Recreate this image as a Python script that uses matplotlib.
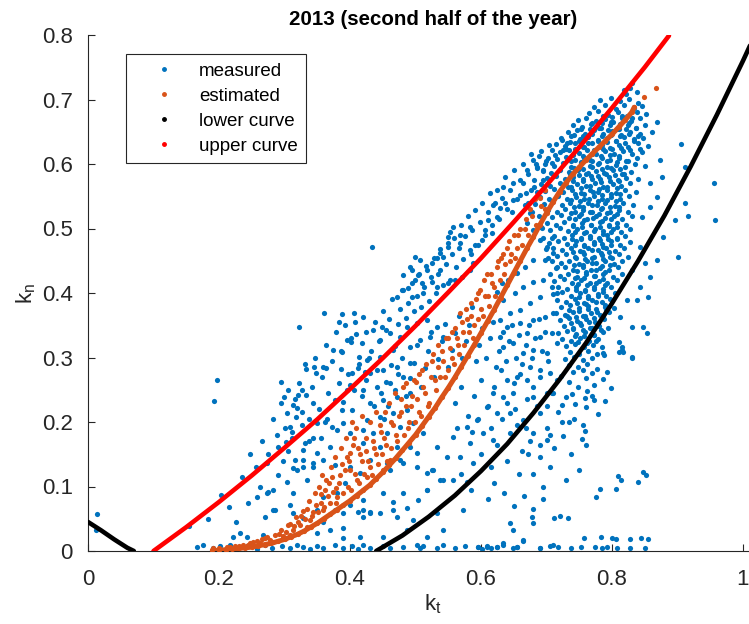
import numpy as np
import matplotlib
matplotlib.use("Agg")
import matplotlib.pyplot as plt
from matplotlib.lines import Line2D

plt.rcParams['font.family'] = ['Liberation Sans', 'DejaVu Sans']
plt.rcParams['mathtext.fontset'] = 'custom'
plt.rcParams['mathtext.rm'] = 'Liberation Sans'

# ---------------- data (kt, kn) in thousandths ----------------
measured_edge = [(12, 32), (14, 58)]

measured_floor = [
    (166, 6), (176, 9), (191, 4), (202, 8), (210, 3), (217, 10), (229, 5), (243, 7), (258, 3),
    (270, 9), (281, 5), (296, 8), (308, 4), (319, 10), (328, 6), (339, 3), (350, 8), (359, 5),
    (377, 9), (389, 4), (403, 7), (412, 3), (420, 9), (430, 5), (450, 8), (461, 4), (481, 6),
    (502, 9), (507, 4), (511, 7), (533, 5), (542, 9), (560, 4), (575, 7), (595, 6), (602, 3),
    (609, 8), (616, 5), (624, 6), (634, 10), (649, 4), (655, 6), (664, 15), (690, 5), (706, 7),
    (718, 6), (738, 4), (753, 6), (774, 6), (785, 5), (792, 6), (808, 5), (827, 5), (850, 5),
    (757, 20), (783, 22), (800, 20), (806, 19), (827, 19), (844, 20), (855, 19),
    (711, 51), (721, 54), (733, 51), (776, 84), (782, 96), (806, 96), (809, 116), (814, 110),
    (840, 107), (847, 122), (852, 118), (754, 174), (759, 186),
]

measured_low = [
    (273, 136), (313, 129), (344, 130), (328, 141), (290, 118), (334, 110), (304, 107), (258, 84),
    (275, 91), (313, 90), (285, 64), (308, 71), (270, 53), (232, 28), (392, 105), (380, 90),
    (420, 79), (400, 71), (412, 60), (430, 60), (450, 90), (466, 76), (450, 22), (389, 36),
    (359, 45), (369, 33), (328, 51), (350, 28),
    (360, 369), (388, 367), (406, 369), (383, 355), (322, 347), (409, 336), (395, 327), (401, 324),
    (374, 312), (388, 309), (414, 301), (333, 282), (345, 285), (359, 285), (363, 284), (348, 276),
    (386, 282), (403, 276), (412, 284), (423, 278), (197, 265), (295, 262), (327, 250), (333, 242),
    (321, 242), (400, 257), (406, 250), (395, 250), (299, 239), (192, 233), (313, 226), (319, 222),
    (344, 229), (377, 234), (389, 231), (388, 219), (403, 219), (304, 214), (318, 208), (327, 195),
    (308, 192), (350, 198), (362, 200), (372, 192), (389, 198), (380, 188), (400, 183), (420, 188),
    (290, 161), (302, 169), (344, 175), (331, 167), (350, 152), (369, 161), (328, 157), (316, 141),
    (328, 130), (344, 136), (359, 141), (377, 133), (319, 126), (400, 130), (415, 121),
    (203, 87), (215, 68), (183, 50), (154, 39), (273, 90), (282, 64), (313, 59), (350, 64),
    (359, 84), (377, 64), (389, 59), (420, 53), (221, 22), (243, 22), (267, 25), (389, 20),
    (415, 22), (434, 471),
    (461, 126), (481, 136), (502, 130), (518, 121), (527, 126), (542, 110), (518, 95), (481, 90),
    (472, 53), (496, 48), (487, 33), (518, 22), (542, 33), (533, 59),
    (282, 205), (288, 180), (294, 230), (300, 190), (305, 250), (311, 175), (316, 235), (322, 260),
    (326, 215), (331, 290), (337, 205), (342, 255), (347, 300), (353, 220), (357, 270), (363, 320),
    (367, 245), (372, 295), (378, 340), (383, 260), (387, 310), (392, 350), (397, 275), (402, 330),
    (408, 355), (413, 290), (418, 240), (424, 265), (429, 300), (436, 225), (441, 280), (447, 245),
    (452, 205), (458, 225), (298, 140), (305, 155), (312, 185), (338, 170), (355, 175), (365, 205),
    (235, 115), (248, 150), (262, 100), (256, 130), (244, 75), (226, 45), (265, 170), (275, 150),
    (283, 95),
]

measured_mid = [
    (553, 495), (557, 502), (499, 456), (533, 454), (542, 456), (518, 436), (495, 436), (504, 428),
    (481, 428), (537, 436), (525, 417), (510, 415), (499, 420), (479, 405), (489, 408), (472, 394),
    (495, 394), (511, 400), (533, 409), (550, 415), (560, 420), (571, 425), (583, 436), (588, 447),
    (583, 467), (591, 474), (602, 482), (606, 498), (617, 493), (611, 513), (624, 518), (629, 532),
    (637, 540), (647, 526), (649, 544), (660, 552), (667, 536), (675, 524), (670, 509), (679, 498),
    (693, 501), (690, 482), (701, 471), (708, 485), (710, 462), (698, 451), (716, 440), (679, 451),
    (667, 440), (655, 431), (641, 420), (632, 415), (624, 402), (634, 389), (652, 400), (664, 409),
    (679, 417), (695, 420), (708, 409), (716, 400), (690, 394), (675, 384), (660, 374), (644, 369),
    (629, 358), (640, 347), (660, 353), (679, 358), (698, 363), (710, 369), (670, 338), (690, 332),
    (708, 338), (716, 322), (701, 307), (679, 312), (664, 307), (649, 322), (634, 316), (629, 332),
    (675, 285), (690, 281), (705, 276), (716, 265), (670, 265), (655, 270), (640, 265), (618, 245),
    (634, 239), (649, 245), (679, 239), (708, 245), (609, 223), (624, 214), (644, 214), (664, 203),
    (690, 214), (594, 203), (579, 192), (563, 191), (557, 177), (583, 167), (603, 183), (618, 172),
    (644, 183), (679, 183), (701, 172), (533, 161), (548, 146), (568, 146), (588, 136), (525, 126),
    (537, 110), (518, 95), (557, 110), (579, 107), (504, 79), (487, 67), (466, 64), (446, 59),
    (430, 59), (420, 64), (573, 64), (644, 43), (649, 33), (678, 53), (679, 43), (664, 17),
    (634, 12), (609, 6), (595, 6), (624, 6), (655, 6), (690, 5), (710, 9),
    (420, 363), (435, 343), (449, 347), (461, 338), (446, 327), (476, 332), (487, 347), (502, 353),
    (518, 358), (533, 347), (542, 332), (522, 332), (507, 327), (492, 316), (466, 312), (446, 301),
    (426, 296), (430, 276), (450, 281), (472, 285), (492, 291), (481, 270), (461, 260), (441, 254),
    (420, 250), (430, 229), (450, 234), (472, 239), (492, 245), (487, 219), (466, 214), (446, 208),
    (426, 203), (435, 183), (456, 183), (476, 192), (496, 198), (511, 183), (420, 167), (446, 161),
    (472, 161), (492, 161), (502, 152), (430, 141), (456, 136), (476, 141),
    (649, 571), (634, 565), (618, 536), (583, 502), (568, 478), (550, 471), (537, 462), (525, 447),
    (507, 451), (492, 440), (550, 487), (568, 490),
    (724, 637), (679, 606), (670, 591), (664, 571), (695, 591), (708, 602), (713, 614),
    (725, 622), (731, 633),
]

measured_band = [
    (418, 322), (425, 340), (432, 310), (438, 355), (444, 325), (451, 372), (455, 342), (460, 360),
    (464, 390), (468, 318), (473, 352), (477, 375), (481, 405), (485, 362), (489, 385), (494, 415),
    (498, 372), (502, 395), (505, 430), (509, 378), (513, 410), (516, 442), (520, 388), (524, 425),
    (528, 455), (531, 400), (535, 430), (538, 468), (542, 412), (546, 445), (549, 478), (553, 420),
    (556, 460), (559, 485), (562, 440), (566, 470), (569, 505), (573, 452), (576, 488), (580, 520),
    (584, 460), (587, 498), (591, 528), (595, 475), (598, 510), (602, 540), (606, 490), (610, 525),
    (613, 555), (617, 505), (621, 540), (625, 560), (628, 515), (632, 548), (636, 580), (640, 530),
    (645, 560), (650, 590), (655, 545), (659, 575), (664, 600), (668, 555), (672, 585), (676, 615),
    (681, 565), (686, 595), (691, 620), (695, 575), (699, 605), (704, 630),
    (455, 262), (462, 288), (468, 250), (474, 275), (480, 300), (486, 240), (492, 268), (498, 292),
    (503, 320), (508, 255), (514, 283), (519, 310), (524, 340), (529, 270), (535, 298), (540, 325),
    (545, 352), (550, 285), (556, 312), (561, 338), (566, 365), (571, 300), (577, 325), (582, 350),
    (587, 378), (592, 295), (597, 320), (602, 345), (607, 300), (613, 330), (618, 355), (623, 285),
    (628, 310), (633, 340), (638, 295), (643, 325), (648, 350), (653, 300), (658, 335), (663, 290),
    (668, 320), (673, 350), (678, 300), (683, 330), (688, 360), (693, 310), (698, 340), (703, 295),
    (560, 230), (570, 255), (580, 210), (590, 240), (600, 265), (610, 225), (620, 255), (630, 280),
    (640, 230), (650, 260), (660, 275), (670, 235), (680, 255), (690, 270), (700, 245), (586, 185),
    (596, 205), (615, 190), (632, 205), (652, 220), (668, 190), (685, 225), (600, 150), (615, 130),
    (625, 165), (640, 140), (658, 120), (672, 150), (690, 165), (705, 180), (570, 120), (585, 95),
    (610, 80), (620, 105), (635, 90), (650, 70), (665, 85), (680, 65), (695, 80),
]

measured_cluster = [
    (828, 718), (838, 712), (822, 709), (831, 725), (818, 714),
    (781, 699), (798, 703), (812, 697), (826, 701), (840, 695),
    (772, 688), (790, 691), (806, 686), (819, 692), (833, 687), (846, 690),
    (765, 679), (778, 682), (794, 676), (809, 680), (823, 675), (838, 681), (852, 677),
    (748, 668), (761, 672), (776, 666), (789, 670), (802, 665), (816, 671), (829, 667), (843, 672),
    (740, 660), (754, 657), (768, 662), (783, 656), (797, 661), (810, 655), (824, 660), (837, 656), (851, 661),
    (733, 649), (746, 653), (759, 647), (773, 652), (787, 646), (800, 651), (814, 645), (828, 650), (842, 646),
    (722, 640), (737, 643), (751, 638), (764, 642), (778, 637), (792, 641), (806, 636), (819, 642), (833, 638), (848, 640),
    (715, 631), (729, 628), (743, 632), (756, 627), (770, 633), (784, 629), (797, 625), (811, 630), (825, 627), (839, 632), (855, 628),
    (708, 621), (721, 618), (735, 622), (749, 617), (762, 621), (776, 616), (790, 620), (803, 615), (817, 620), (830, 616), (846, 619),
    (702, 610), (716, 607), (730, 611), (743, 606), (757, 610), (770, 605), (784, 609), (797, 606), (811, 610), (824, 605), (838, 609),
    (697, 600), (711, 597), (725, 602), (738, 596), (752, 601), (766, 597), (779, 600), (793, 595), (806, 599), (820, 596), (835, 600), (851, 597),
    (694, 589), (707, 586), (721, 591), (734, 587), (748, 590), (761, 585), (775, 589), (788, 586), (802, 590), (815, 585), (829, 588),
    (700, 578), (714, 581), (728, 576), (741, 580), (755, 577), (768, 581), (782, 576), (795, 580), (809, 575), (822, 579), (840, 577),
    (692, 569), (706, 566), (720, 570), (733, 565), (747, 569), (760, 566), (774, 570), (787, 565), (801, 569), (814, 566), (828, 570),
    (698, 558), (711, 561), (725, 556), (739, 560), (752, 555), (766, 559), (779, 556), (793, 560), (806, 555), (820, 559), (836, 557),
    (690, 549), (704, 546), (718, 550), (731, 545), (745, 549), (758, 546), (772, 550), (785, 545), (799, 549), (812, 546), (826, 550),
    (696, 538), (709, 541), (723, 536), (736, 540), (750, 535), (763, 539), (777, 536), (790, 540), (804, 535), (817, 539), (832, 537),
    (702, 529), (716, 526), (729, 530), (743, 525), (756, 529), (770, 526), (783, 530), (797, 525), (810, 529), (824, 526),
    (708, 518), (722, 521), (735, 516), (749, 520), (762, 515), (776, 519), (789, 516), (803, 520), (816, 515), (830, 519),
    (700, 509), (714, 506), (727, 510), (741, 505), (754, 509), (768, 506), (781, 510), (795, 505), (808, 509), (822, 506),
    (706, 498), (720, 501), (733, 496), (747, 500), (760, 495), (774, 499), (787, 496), (801, 500), (814, 495), (828, 499),
    (712, 489), (726, 486), (739, 490), (753, 485), (766, 489), (780, 486), (793, 490), (807, 485), (820, 489),
    (704, 478), (718, 481), (731, 476), (745, 480), (758, 475), (772, 479), (785, 476), (799, 480), (812, 475), (827, 479),
    (710, 469), (724, 466), (737, 470), (751, 465), (764, 469), (778, 466), (791, 470), (805, 465), (818, 469),
    (716, 458), (730, 461), (743, 456), (757, 460), (770, 455), (784, 459), (797, 456), (811, 460), (824, 456),
    (708, 449), (722, 446), (735, 450), (749, 445), (762, 449), (776, 446), (789, 450), (803, 445), (816, 449),
    (714, 438), (728, 441), (741, 436), (755, 440), (768, 435), (782, 439), (795, 436), (809, 440),
    (706, 429), (720, 426), (733, 430), (747, 425), (760, 429), (774, 426), (787, 430), (801, 425), (815, 429),
    (712, 418), (726, 421), (739, 416), (753, 420), (766, 415), (780, 419), (793, 416), (807, 420),
    (718, 409), (732, 406), (745, 410), (759, 405), (772, 409), (786, 406), (799, 410),
    (710, 398), (724, 401), (737, 396), (751, 400), (764, 395), (778, 399), (791, 396), (805, 400),
    (716, 389), (730, 386), (743, 390), (757, 385), (770, 389), (784, 386), (797, 390),
    (722, 378), (736, 381), (749, 376), (763, 380), (776, 375), (790, 379), (803, 376),
    (714, 369), (728, 366), (741, 370), (755, 365), (768, 369), (782, 366), (795, 370),
    (720, 358), (734, 361), (747, 356), (761, 360), (774, 355), (788, 359),
    (726, 349), (740, 346), (753, 350), (767, 345), (780, 349), (794, 346),
    (718, 338), (732, 341), (745, 336), (759, 340), (772, 335), (786, 339),
    (724, 329), (738, 326), (751, 330), (765, 325), (778, 329),
    (730, 318), (744, 321), (757, 316), (771, 320), (785, 317),
    (736, 309), (750, 306), (763, 310), (777, 305),
    (728, 298), (742, 301), (756, 296), (770, 300),
    (734, 289), (748, 286), (762, 290),
    (740, 278), (755, 281), (769, 276),
]

measured_core = [
    (786, 674), (800, 673), (816, 675), (830, 672),
    (770, 664), (784, 663), (798, 665), (812, 662), (826, 664),
    (752, 655), (766, 654), (780, 656), (794, 653), (808, 655), (822, 654), (836, 656),
    (742, 645), (756, 644), (770, 646), (784, 643), (798, 645), (812, 644), (826, 646), (840, 643),
    (736, 634), (750, 636), (764, 633), (778, 635), (792, 634), (806, 636), (820, 633), (834, 635),
    (730, 624), (744, 623), (758, 626), (772, 622), (786, 624), (800, 623), (814, 625), (828, 622), (842, 624),
    (741, 614), (755, 613), (769, 615), (783, 612), (797, 614), (811, 613),
    (738, 604), (752, 603), (766, 606), (780, 602), (793, 604), (807, 603), (821, 605),
    (742, 594), (756, 593), (770, 596), (784, 592), (798, 594), (812, 593),
    (736, 584), (750, 583), (764, 586), (778, 582), (791, 584), (805, 583), (818, 585),
    (741, 574), (755, 573), (769, 576), (783, 572), (797, 574), (811, 573),
    (738, 564), (752, 563), (766, 566), (780, 562), (793, 564), (807, 563),
    (743, 554), (757, 553), (771, 556), (785, 552), (799, 554), (812, 553),
    (737, 544), (751, 543), (765, 546), (779, 542), (792, 544), (806, 543),
    (742, 534), (756, 533), (770, 536), (784, 532), (797, 534), (810, 533),
    (738, 524), (752, 523), (766, 526), (780, 522), (793, 524), (807, 523),
    (743, 514), (757, 513), (771, 516), (785, 512), (798, 514),
    (740, 504), (754, 503), (768, 506), (782, 502), (795, 504), (808, 503),
    (744, 494), (758, 493), (772, 496), (786, 492), (799, 494),
    (739, 484), (753, 483), (767, 486), (781, 482), (794, 484), (807, 483),
    (744, 474), (758, 473), (772, 476), (786, 472), (799, 474),
    (741, 464), (755, 463), (769, 466), (783, 462), (796, 464),
    (745, 454), (759, 453), (773, 456), (787, 452), (800, 454),
    (742, 444), (756, 443), (770, 446), (784, 442), (797, 444),
    (747, 434), (761, 433), (775, 436), (789, 432),
    (744, 424), (758, 423), (772, 426), (786, 422),
    (748, 414), (762, 413), (776, 416), (790, 412),
    (745, 404), (759, 403), (773, 406), (787, 402),
    (750, 394), (764, 393), (778, 396),
    (747, 384), (761, 383), (775, 386), (789, 382),
    (735, 374), (749, 372), (763, 375), (777, 371), (791, 373),
    (731, 364), (745, 363), (759, 365), (773, 362), (787, 364),
    (737, 354), (751, 353), (765, 355), (779, 352),
    (741, 344), (755, 343), (769, 345), (783, 342),
    (744, 334), (758, 333), (772, 335),
    (748, 324), (762, 323), (776, 325),
    (689, 612), (685, 594), (681, 575), (686, 556), (683, 538), (688, 520), (692, 503), (695, 485),
    (699, 468), (702, 455), (676, 560), (672, 540), (678, 525), (684, 600),
]

measured_right = [
    (905, 631), (911, 595), (911, 540), (916, 520), (900, 456), (956, 571), (957, 513),
    (896, 513), (858, 571), (868, 665), (861, 650), (873, 606), (876, 580), (868, 549),
    (858, 533), (846, 518), (843, 471), (850, 447), (830, 436), (843, 409), (823, 389),
    (812, 363), (830, 347), (847, 347), (853, 338), (786, 307), (815, 312), (830, 301),
    (838, 389), (858, 425), (855, 394), (868, 451), (878, 487),
    (811, 324), (815, 317), (811, 309), (817, 308), (831, 300), (788, 304), (777, 282),
    (792, 278), (762, 248), (759, 237), (773, 234), (760, 223), (739, 243), (724, 226),
    (724, 200), (734, 200),
    (722, 271), (735, 262), (748, 255), (760, 268), (772, 258), (786, 266), (798, 252),
    (710, 245), (730, 238), (744, 228), (770, 240), (790, 232), (718, 215), (742, 205),
    (756, 195), (778, 212), (700, 190), (725, 178), (712, 160), (738, 150), (760, 165),
    (690, 145), (705, 130), (680, 120), (695, 100), (730, 110), (750, 125), (662, 155),
    (675, 170), (655, 195), (700, 225),
]

estimated_line = [
    (190, 1), (200, 1), (210, 2), (220, 3), (230, 4), (240, 5), (250, 6), (260, 8), (270, 10),
    (280, 12), (290, 15), (300, 18), (310, 22), (320, 26), (330, 31), (340, 37), (350, 43),
    (360, 50), (370, 57), (380, 64), (390, 71), (400, 78), (410, 86), (420, 94), (430, 102),
    (440, 112), (450, 122), (460, 133), (470, 144), (480, 156), (490, 168), (500, 180),
    (510, 194), (520, 208), (530, 222), (540, 238), (550, 253), (560, 269), (570, 286),
    (580, 303), (590, 320), (600, 338), (610, 356), (620, 374), (630, 393), (640, 412),
    (650, 431), (660, 450), (670, 469), (680, 487), (690, 506), (700, 524), (710, 541),
    (720, 557), (730, 571), (740, 584), (750, 595), (760, 606), (770, 616), (780, 626),
    (790, 636), (800, 646), (810, 657), (820, 668), (830, 680), (834, 688),
]

estimated_scatter = [
    (191, 5), (217, 6), (263, 12), (278, 17), (298, 20), (308, 25), (313, 33), (334, 37),
    (339, 48), (344, 60), (359, 64), (369, 74), (380, 84), (372, 115), (385, 118), (400, 126),
    (410, 110), (426, 115), (430, 130), (450, 126), (461, 141), (400, 152),
    (230, 8), (245, 10), (252, 14), (270, 20), (285, 25), (295, 32), (305, 40), (320, 45),
    (325, 55), (335, 65), (348, 72), (355, 88), (362, 95), (368, 105), (378, 98), (388, 135),
    (395, 145), (403, 200), (406, 175), (412, 160), (418, 140), (425, 155), (435, 170),
    (440, 150), (448, 185), (455, 165), (462, 200), (470, 180), (478, 215), (481, 254),
    (485, 225), (490, 200), (495, 240), (500, 262), (505, 215), (510, 280), (515, 245),
    (520, 230), (525, 295), (530, 265), (535, 285), (540, 310), (545, 270), (550, 330),
    (555, 300), (560, 345), (565, 320), (568, 369), (572, 340), (578, 360), (585, 385),
    (590, 350), (595, 400), (600, 375), (605, 420), (610, 395), (615, 430), (620, 410),
    (624, 440), (630, 455), (635, 430), (640, 470), (645, 450), (650, 490), (655, 470),
    (660, 500), (668, 515), (675, 530), (682, 545), (690, 548), (698, 560),
    (849, 704), (867, 718),
    (302, 30), (308, 42), (315, 38), (318, 52), (323, 40), (328, 62), (332, 50), (338, 78),
    (342, 55), (347, 90), (351, 60), (353, 100), (356, 75), (358, 118), (361, 68), (364, 110),
    (366, 85), (371, 130), (374, 92), (377, 145), (379, 75), (383, 105), (386, 160), (389, 90),
    (392, 125), (394, 175), (397, 100), (399, 140), (402, 95), (404, 165), (407, 120), (409, 190),
    (413, 105), (416, 150), (419, 210), (421, 120), (424, 175), (428, 140), (431, 200), (434, 118),
    (437, 160), (440, 215), (443, 135), (446, 195), (449, 150), (452, 175), (454, 215), (457, 140),
    (459, 230), (463, 160), (466, 195), (469, 245), (472, 170), (475, 210), (478, 235), (482, 180),
    (486, 260), (489, 190), (493, 225), (497, 265), (499, 200), (503, 235), (506, 275), (509, 210),
    (512, 255), (516, 290), (519, 225), (523, 270), (527, 305), (531, 250), (534, 320), (538, 270),
    (542, 295), (546, 330), (549, 280), (553, 315), (556, 340), (559, 290), (563, 330), (567, 305),
    (571, 355), (574, 320), (577, 375), (581, 340), (584, 365), (588, 330), (592, 390), (596, 360),
    (599, 405), (603, 365), (606, 395), (609, 430), (612, 380), (617, 415), (622, 395), (626, 450),
    (629, 420), (633, 460), (637, 445), (642, 480), (646, 460), (652, 455), (657, 490), (663, 475),
    (667, 500), (672, 490), (678, 520), (684, 505), (692, 535), (697, 530),
    (200, 4), (212, 6), (224, 8), (236, 9), (248, 12), (258, 15), (266, 18), (274, 22), (283, 14),
    (291, 27), (297, 24),
]

lower_left = [(0, 45), (20, 32), (40, 18), (60, 5), (70, 0)]
lower_right = [(440, 0), (480, 24), (520, 53), (560, 86), (600, 124), (640, 166), (680, 214),
               (720, 266), (760, 322), (800, 384), (840, 450), (880, 520), (920, 596),
               (960, 676), (1000, 760), (1020, 804)]
upper = [(100, 0), (150, 37), (200, 76), (250, 117), (300, 160), (350, 204), (400, 251),
         (450, 299), (500, 349), (550, 401), (600, 454), (650, 510), (700, 567), (750, 626),
         (800, 687), (850, 750), (887, 799)]

x_ticks = [0, 0.2, 0.4, 0.6, 0.8, 1]
x_tick_labels = ['0', '0.2', '0.4', '0.6', '0.8', '1']
y_ticks = [0, 0.1, 0.2, 0.3, 0.4, 0.5, 0.6, 0.7, 0.8]
y_tick_labels = ['0', '0.1', '0.2', '0.3', '0.4', '0.5', '0.6', '0.7', '0.8']


def arr(pairs):
    a = np.asarray(pairs, dtype=float) / 1000.0
    return a[:, 0], a[:, 1]


C_MEAS = '#0072BD'
C_EST = '#D95319'
C_LOW = '#000000'
C_UP = '#FF0000'
AX_COL = '#262626'

fig = plt.figure(figsize=(7.49, 6.24), dpi=100)
# the axes run on past the right edge of the figure
ax = fig.add_axes([88 / 749, 73 / 624, 690 / 749, 516 / 624])

dot = 14
meas = (measured_edge + measured_floor + measured_low + measured_mid + measured_band
        + measured_cluster + measured_core + measured_right)
mx, my = arr(meas)
ax.scatter(mx, my, s=dot, color=C_MEAS, linewidths=0, zorder=2)

lx, ly = arr(estimated_line)
ax.plot(lx, ly, color=C_EST, lw=3.6, solid_capstyle='round', zorder=3)
ax.scatter(lx, ly, s=dot, color=C_EST, linewidths=0, zorder=3)
sx, sy = arr(estimated_scatter)
ax.scatter(sx, sy, s=dot, color=C_EST, linewidths=0, zorder=3)

for seg in (lower_left, lower_right):
    bx, by = arr(seg)
    ax.plot(bx, by, color=C_LOW, lw=3.3, solid_capstyle='round', zorder=4)
ux, uy = arr(upper)
ax.plot(ux, uy, color=C_UP, lw=3.3, solid_capstyle='round', zorder=4)

ax.set_xlim(0, 690 / 655)
ax.set_ylim(0, 0.8)
ax.set_xticks(x_ticks)
ax.set_xticklabels(x_tick_labels)
ax.set_yticks(y_ticks)
ax.set_yticklabels(y_tick_labels)
ax.spines['top'].set_visible(False)
ax.spines['right'].set_visible(False)
for s in ('left', 'bottom'):
    ax.spines[s].set_color(AX_COL)
    ax.spines[s].set_linewidth(0.8)
ax.tick_params(direction='in', length=5, width=0.8, colors=AX_COL, labelsize=16)
ax.tick_params(axis='x', pad=13)
ax.tick_params(axis='y', pad=11)

ax.set_title('2013 (second half of the year)', fontsize=14.8, fontweight='bold',
             color='black', pad=7)
ax.set_xlabel(r'$\mathregular{k_t}$', fontsize=16, color=AX_COL, labelpad=2)
ax.set_ylabel(r'$\mathregular{k_n}$', fontsize=16, color=AX_COL, labelpad=3)

handles = [Line2D([], [], ls='none', marker='.', markersize=5, color=c)
           for c in (C_MEAS, C_EST, C_LOW, C_UP)]
leg = ax.legend(handles, ['measured', 'estimated', 'lower curve', 'upper curve'],
                loc='upper left', bbox_to_anchor=(126 / 749, 1 - 54 / 624),
                bbox_transform=fig.transFigure, fontsize=13.5, frameon=True,
                fancybox=False, framealpha=1, edgecolor='#262626',
                handlelength=3.1, handletextpad=0.35, borderpad=0.45,
                labelspacing=0.42, borderaxespad=0)
leg.get_frame().set_linewidth(0.8)

fig.savefig('out.png', dpi=100)
